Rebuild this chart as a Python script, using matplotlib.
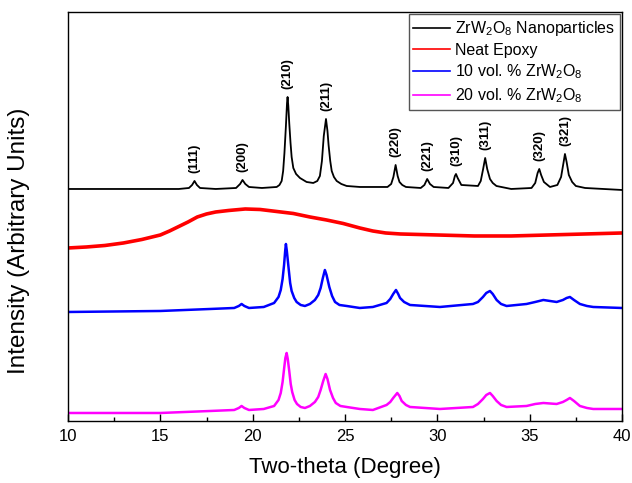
import numpy as np
import matplotlib
matplotlib.use("Agg")
import matplotlib.pyplot as plt

plt.rcParams['font.family'] = ['Liberation Sans', 'DejaVu Sans']
plt.rcParams['mathtext.fontset'] = 'custom'
plt.rcParams['mathtext.rm'] = 'Liberation Sans'
plt.rcParams['mathtext.it'] = 'Liberation Sans:italic'

# two-theta (deg) and intensity (arb. units, traces already offset)
nano_x = [10.0, 12.0, 14.0, 16.0, 16.55, 16.72, 16.85, 16.98, 17.15, 18.0, 19.1, 19.32,
          19.45, 19.6, 19.8, 20.5, 21.3, 21.45, 21.57, 21.65, 21.72, 21.80, 21.86, 21.89,
          21.93, 21.98, 22.05, 22.11, 22.2, 22.35, 22.56, 22.92, 23.28, 23.5, 23.64,
          23.75, 23.85, 23.97, 24.05, 24.11, 24.2, 24.28, 24.4, 24.55, 24.8, 25.09,
          25.81, 27.3, 27.5, 27.62, 27.74, 27.85, 27.95, 28.1, 28.3, 29.1, 29.3, 29.45,
          29.6, 29.8, 30.6, 30.85, 30.95, 31.01, 31.1, 31.3, 32.2, 32.35, 32.48, 32.59,
          32.7, 32.85, 33.0, 33.2, 34.0, 35.1, 35.3, 35.43, 35.52, 35.62, 35.77, 36.1,
          36.5, 36.7, 36.83, 36.91, 37.0, 37.12, 37.3, 37.5, 38.0, 39.0, 40.0]
nano_y = [232, 232, 232, 232, 233, 236, 240, 236, 233, 232, 233, 237,
          241, 237, 234, 233, 234, 236, 240, 250, 268, 295, 318, 324,
          315, 298, 278, 264, 253, 247, 243, 239, 238, 240, 245,
          260, 285, 302, 290, 276, 260, 250, 244, 240, 237, 235,
          234, 234, 237, 244, 256, 245, 239, 236, 234, 233, 236, 242,
          237, 234, 233, 238, 245, 247, 243, 236, 235, 240, 252, 263,
          252, 242, 238, 235, 232, 233, 238, 248, 252, 246, 239, 234,
          236, 244, 258, 267, 259, 246, 239, 235, 233, 232, 231]

epoxy_x = [10.0, 11.0, 12.0, 13.0, 14.0, 15.0, 15.5, 16.0, 16.5, 17.0, 17.5, 18.0,
           18.7, 19.6, 20.4, 21.3, 22.2, 23.1, 24.0, 24.9, 25.8, 26.5, 27.2, 28.0,
           30.0, 32.0, 34.0, 36.0, 38.0, 40.0]
epoxy_y = [173, 174, 175.5, 178, 181.5, 186, 190, 194.5, 199, 204, 207, 209,
           210.5, 212, 211.5, 209.5, 207.5, 204, 201, 197.5, 193, 190, 188, 187,
           186, 185, 185, 186, 187, 188]

vol10_x = [10.0, 15.0, 17.7, 19.0, 19.25, 19.4, 19.55, 19.8, 20.6, 21.16, 21.4, 21.52,
           21.62, 21.7, 21.76, 21.80, 21.85, 21.95, 22.03, 22.11, 22.25, 22.38, 22.6,
           22.83, 23.1, 23.37, 23.55, 23.68, 23.8, 23.91, 24.0, 24.15, 24.3, 24.46,
           24.7, 25.09, 25.8, 26.51, 27.25, 27.45, 27.61, 27.76, 27.88, 27.98, 28.2,
           28.52, 30.14, 31.93, 32.2, 32.47, 32.65, 32.85, 33.0, 33.21, 33.45, 33.75,
           34.83, 35.3, 35.74, 36.1, 36.46, 36.8, 37.0, 37.18, 37.4, 37.72, 38.1,
           38.44, 40.0]
vol10_y = [109, 110, 112, 113, 115, 117, 115, 113, 114, 118, 124, 131,
           142, 156, 170, 177, 170, 152, 138, 130, 123, 119, 116,
           115, 117, 121, 126, 133, 143, 151, 146, 134, 125, 119,
           116, 115, 113, 114, 118, 122, 127, 131, 127, 123, 119,
           116, 114, 117, 119, 124, 128, 130, 127, 121, 117, 115,
           117, 119, 121, 120, 119, 121, 123, 124, 121, 117, 115,
           114, 113]

vol20_x = [10.0, 15.0, 17.7, 19.0, 19.25, 19.4, 19.55, 19.8, 20.6, 21.16, 21.4, 21.52,
           21.62, 21.7, 21.77, 21.84, 21.9, 21.98, 22.06, 22.14, 22.27, 22.4, 22.6,
           22.83, 23.1, 23.37, 23.55, 23.68, 23.82, 23.95, 24.05, 24.19, 24.35, 24.5,
           24.75, 25.09, 25.8, 26.51, 27.25, 27.45, 27.61, 27.83, 27.95, 28.07, 28.3,
           28.52, 30.14, 31.93, 32.2, 32.47, 32.65, 32.85, 33.0, 33.21, 33.45, 33.75,
           34.83, 35.3, 35.74, 36.1, 36.46, 36.8, 37.0, 37.18, 37.4, 37.72, 38.1,
           38.44, 40.0]
vol20_y = [8, 8, 10, 11, 13, 15, 13, 11, 12, 15, 21, 28,
           39, 52, 63, 68, 62, 50, 37, 29, 21, 17, 14,
           13, 15, 19, 24, 31, 40, 47, 42, 31, 23, 18,
           15, 14, 12, 11, 16, 19, 23, 28, 25, 20, 16,
           14, 12, 14, 17, 22, 26, 28, 25, 20, 16, 14,
           15, 17, 18, 17.5, 17, 19, 21, 23, 20, 15, 13,
           12, 12]

hkl = ['(111)', '(200)', '(210)', '(211)', '(220)', '(221)', '(310)', '(311)', '(320)', '(321)']
hkl_pos = [16.85, 19.45, 21.89, 23.97, 27.74, 29.45, 31.01, 32.59, 35.52, 36.91]

fig = plt.figure(figsize=(6.32, 4.83), dpi=100)
ax = fig.add_axes([0.1076, 0.1284, 0.8766, 0.8468])

ax.plot(nano_x, nano_y, color='black', lw=1.3, label=r'ZrW$_2$O$_8$ Nanoparticles')
ax.plot(epoxy_x, epoxy_y, color='red', lw=2.6, label='Neat Epoxy')
ax.plot(vol10_x, vol10_y, color='blue', lw=1.8, label=r'10 vol. % ZrW$_2$O$_8$')
ax.plot(vol20_x, vol20_y, color='#ff00ff', lw=1.8, label=r'20 vol. % ZrW$_2$O$_8$')

nx = np.array(nano_x)
ny = np.array(nano_y)
for lab, pos in zip(hkl, hkl_pos):
    top = ny[np.abs(nx - pos) < 0.15].max()
    ax.annotate(lab, xy=(pos, top), xytext=(0, 6), textcoords='offset points',
                rotation=90, ha='center', va='bottom', fontsize=9.5, fontweight='bold')

ax.set_xlim(10, 40)
ax.set_ylim(0, 409)
ax.set_xticks([10, 15, 20, 25, 30, 35, 40])
ax.set_xticks([12.5, 17.5, 22.5, 27.5, 32.5, 37.5], minor=True)
ax.set_yticks([])
ax.tick_params(axis='x', which='major', direction='in', length=5, width=1, labelsize=12, pad=6)
ax.tick_params(axis='x', which='minor', direction='in', length=3, width=1)
for s in ax.spines.values():
    s.set_linewidth(1.0)

ax.set_xlabel('Two-theta (Degree)', fontsize=16, labelpad=9)
ax.set_ylabel('Intensity (Arbitrary Units)', fontsize=17.5)
ax.yaxis.set_label_coords(-0.068, 0.44)

leg = ax.legend(loc='upper right', fontsize=11.5, fancybox=False, framealpha=1,
                edgecolor='#555555', borderaxespad=0.15, handlelength=2.3,
                handletextpad=0.3, labelspacing=0.3, borderpad=0.3)
leg.get_frame().set_linewidth(1.0)
for h in leg.get_lines():
    h.set_linewidth(1.2)

fig.savefig('out.png', dpi=100)
